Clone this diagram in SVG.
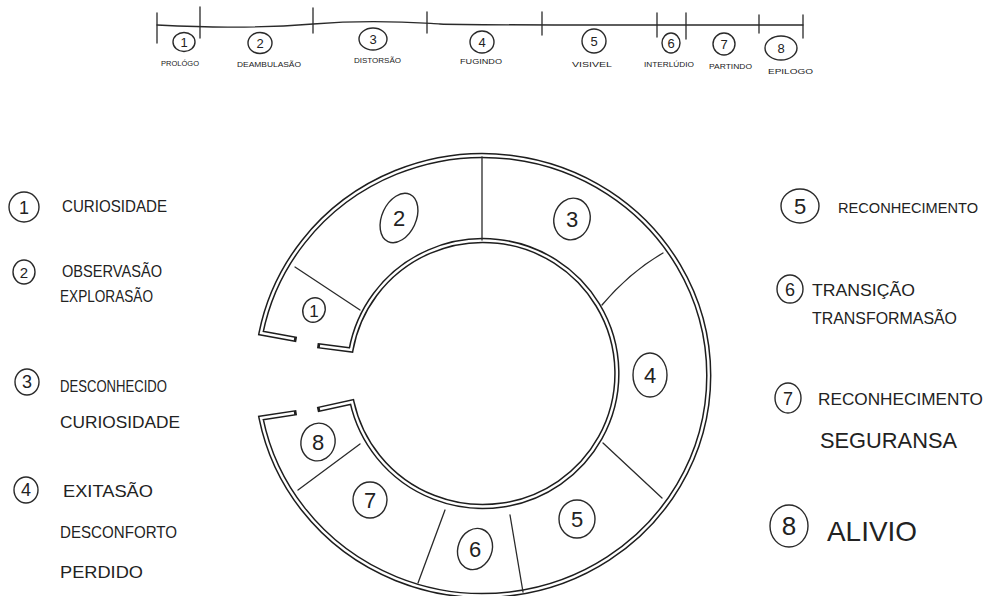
<svg xmlns="http://www.w3.org/2000/svg" width="993" height="596" viewBox="0 0 993 596">
<style>
  .bg{fill:#fff}
  .ln{fill:none;stroke:#2a2a2a;stroke-width:1.3;stroke-linecap:round}
  .wallB{fill:none;stroke:#1e1e1e;stroke-width:5.4;stroke-linejoin:miter;stroke-linecap:square}
  .wallW{fill:none;stroke:#fff;stroke-width:2.4;stroke-linejoin:miter;stroke-linecap:butt}
  .oval{fill:none;stroke:#2a2a2a;stroke-width:1.4}
  .hw{font-family:"Liberation Sans","DejaVu Sans",sans-serif;fill:#222}
  .tl{font-size:8px}
  .tn{font-size:13px;text-anchor:middle}
  .rn{font-size:22px;text-anchor:middle}
  .lg{font-size:17px}
  .ln2{font-size:18px;text-anchor:middle}
</style>
<rect class="bg" width="993" height="596"/>

<!-- timeline -->
<g id="timeline">
  <path class="ln" d="M157 25 C 200 27, 250 29, 313 24 S 420 23, 440 24 S 600 25, 657 25 S 740 25, 803 25"/>
  <path class="ln" d="M157 13 V43 M200 7 V38 M313 8 V33 M427 12 V33 M542 12 V35 M657 13 V37 M686 13 V39 M759 15 V33 M803 15 V38"/>
</g>
<g id="t1"><ellipse class="oval" cx="184" cy="42" rx="11" ry="9.5"/><text class="hw tn" x="184" y="47">1</text><text class="hw tl" x="161" y="66" textLength="38" lengthAdjust="spacingAndGlyphs">PROLÓGO</text></g>
<g id="t2"><ellipse class="oval" cx="260" cy="43" rx="12" ry="10.5"/><text class="hw tn" x="260" y="48">2</text><text class="hw tl" x="237" y="67" textLength="64" lengthAdjust="spacingAndGlyphs">DEAMBULASÃO</text></g>
<g id="t3"><ellipse class="oval" cx="373" cy="39" rx="14" ry="11"/><text class="hw tn" x="373" y="44">3</text><text class="hw tl" x="354" y="63" textLength="47" lengthAdjust="spacingAndGlyphs">DISTORSÃO</text></g>
<g id="t4"><ellipse class="oval" cx="482" cy="42" rx="12" ry="11"/><text class="hw tn" x="482" y="47">4</text><text class="hw tl" x="460" y="64" textLength="42" lengthAdjust="spacingAndGlyphs">FUGINDO</text></g>
<g id="t5"><ellipse class="oval" cx="594" cy="41" rx="12" ry="12"/><text class="hw tn" x="594" y="46">5</text><text class="hw tl" x="572" y="67" textLength="40" lengthAdjust="spacingAndGlyphs">VISIVEL</text></g>
<g id="t6"><ellipse class="oval" cx="671" cy="43" rx="9" ry="10"/><text class="hw tn" x="671" y="48">6</text><text class="hw tl" x="644" y="67" textLength="50" lengthAdjust="spacingAndGlyphs">INTERLÚDIO</text></g>
<g id="t7"><ellipse class="oval" cx="724" cy="44" rx="11" ry="11"/><text class="hw tn" x="724" y="49">7</text><text class="hw tl" x="709" y="69" textLength="43" lengthAdjust="spacingAndGlyphs">PARTINDO</text></g>
<g id="t8"><ellipse class="oval" cx="781" cy="48" rx="16" ry="12"/><text class="hw tn" x="781" y="53">8</text><text class="hw tl" x="768" y="74" textLength="45" lengthAdjust="spacingAndGlyphs">EPILOGO</text></g>

<!-- ring walls -->
<g id="ring">
  <path id="outerWall" class="wallB" d="M294 339 L261 333 A226 220 0 1 1 261 418 L294 413"/>
  <path class="wallW" d="M294 339 L261 333 A226 220 0 1 1 261 418 L294 413"/>
  <path id="innerWall" class="wallB" d="M320 346 L351 350 A134 133 0 1 1 352 402 L320 409"/>
  <path class="wallW" d="M320 346 L351 350 A134 133 0 1 1 352 402 L320 409"/>
</g>

<!-- connectors: segment dividers -->
<g id="connectors">
  <path class="ln" d="M295 267 L360 310"/>
  <path class="ln" d="M482 157 L482 240"/>
  <path class="ln" d="M663 253 Q630 272 602 305"/>
  <path class="ln" d="M603 443 L662 498"/>
  <path class="ln" d="M510 515 L523 592"/>
  <path class="ln" d="M445 510 L418 583"/>
  <path class="ln" d="M360 444 L298 490"/>
</g>

<!-- ring segments -->
<g id="seg1"><ellipse class="oval" cx="314" cy="310" rx="11" ry="12.5" transform="rotate(25 314 310)"/><text class="hw rn" x="314" y="317" style="font-size:17px">1</text></g>
<g id="seg2"><ellipse class="oval" cx="399" cy="218" rx="17" ry="26" transform="rotate(25 399 218)"/><text class="hw rn" x="399" y="226">2</text></g>
<g id="seg3"><ellipse class="oval" cx="572" cy="219" rx="18" ry="21" transform="rotate(15 572 219)"/><text class="hw rn" x="572" y="227">3</text></g>
<g id="seg4"><ellipse class="oval" cx="650" cy="375" rx="17" ry="22"/><text class="hw rn" x="650" y="383">4</text></g>
<g id="seg5"><ellipse class="oval" cx="577" cy="519" rx="18" ry="19"/><text class="hw rn" x="577" y="527">5</text></g>
<g id="seg6"><ellipse class="oval" cx="475" cy="549" rx="17" ry="21" transform="rotate(20 475 549)"/><text class="hw rn" x="475" y="557">6</text></g>
<g id="seg7"><ellipse class="oval" cx="370" cy="500" rx="17" ry="18"/><text class="hw rn" x="370" y="508">7</text></g>
<g id="seg8"><ellipse class="oval" cx="318" cy="442" rx="17" ry="19" transform="rotate(15 318 442)"/><text class="hw rn" x="318" y="450">8</text></g>

<!-- left legend -->
<g id="leg1"><ellipse class="oval" cx="24" cy="207" rx="15" ry="15"/><text class="hw ln2" x="24" y="214">1</text><text class="hw lg" x="62" y="212" textLength="105" lengthAdjust="spacingAndGlyphs">CURIOSIDADE</text></g>
<g id="leg2"><ellipse class="oval" cx="24" cy="272" rx="11" ry="12"/><text class="hw ln2" x="24" y="278" style="font-size:15px">2</text><text class="hw lg" x="62" y="277" textLength="100" lengthAdjust="spacingAndGlyphs">OBSERVASÃO</text><text class="hw lg" x="60" y="302" textLength="93" lengthAdjust="spacingAndGlyphs">EXPLORASÃO</text></g>
<g id="leg3"><ellipse class="oval" cx="27" cy="382" rx="12" ry="13"/><text class="hw ln2" x="27" y="388">3</text><text class="hw lg" x="60" y="392" textLength="107" lengthAdjust="spacingAndGlyphs">DESCONHECIDO</text><text class="hw lg" x="60" y="428" textLength="120" lengthAdjust="spacingAndGlyphs">CURIOSIDADE</text></g>
<g id="leg4"><ellipse class="oval" cx="26" cy="490" rx="12" ry="13"/><text class="hw ln2" x="26" y="496">4</text><text class="hw lg" x="63" y="497" textLength="90" lengthAdjust="spacingAndGlyphs">EXITASÃO</text><text class="hw lg" x="60" y="538" textLength="117" lengthAdjust="spacingAndGlyphs">DESCONFORTO</text><text class="hw lg" x="60" y="578" textLength="83" lengthAdjust="spacingAndGlyphs">PERDIDO</text></g>

<!-- right legend -->
<g id="leg5"><ellipse class="oval" cx="800" cy="206" rx="19" ry="17"/><text class="hw ln2" x="800" y="214" style="font-size:22px">5</text><text class="hw lg" x="838" y="213" style="font-size:15px" textLength="140" lengthAdjust="spacingAndGlyphs">RECONHECIMENTO</text></g>
<g id="leg6"><ellipse class="oval" cx="790" cy="289" rx="13" ry="14"/><text class="hw ln2" x="790" y="296">6</text><text class="hw lg" x="812" y="296" textLength="103" lengthAdjust="spacingAndGlyphs">TRANSIÇÃO</text><text class="hw lg" x="812" y="324" textLength="145" lengthAdjust="spacingAndGlyphs">TRANSFORMASÃO</text></g>
<g id="leg7"><ellipse class="oval" cx="788" cy="398" rx="13" ry="15"/><text class="hw ln2" x="788" y="405">7</text><text class="hw lg" x="818" y="405" textLength="165" lengthAdjust="spacingAndGlyphs">RECONHECIMENTO</text><text class="hw lg" x="820" y="448" style="font-size:22px" textLength="137" lengthAdjust="spacingAndGlyphs">SEGURANSA</text></g>
<g id="leg8"><ellipse class="oval" cx="789" cy="526" rx="19" ry="21"/><text class="hw ln2" x="789" y="535" style="font-size:26px">8</text><text class="hw lg" x="827" y="541" style="font-size:28px" textLength="90" lengthAdjust="spacingAndGlyphs">ALIVIO</text></g>
</svg>
